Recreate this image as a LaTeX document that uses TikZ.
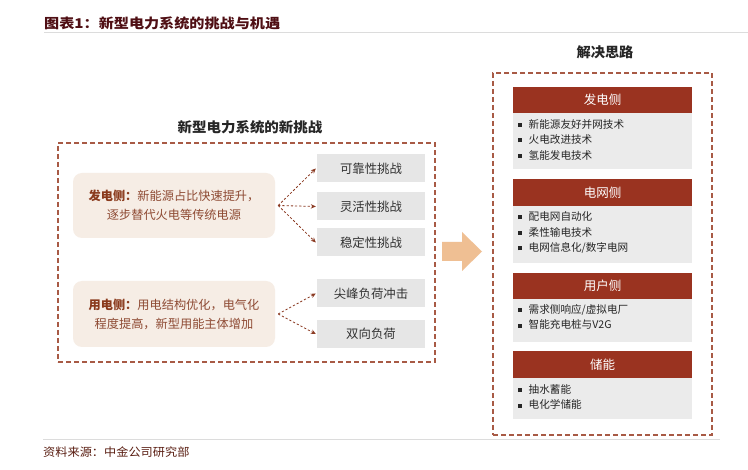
\documentclass[tikz,border=0pt]{standalone}
\usepackage{fontspec}
\setmainfont{Noto Sans CJK SC}
\usetikzlibrary{arrows.meta}
\definecolor{titlec}{HTML}{4F0F14}
\definecolor{linegray}{HTML}{DCDCDC}
\definecolor{dashc}{HTML}{A85A45}
\definecolor{beige}{HTML}{F6EDE5}
\definecolor{sideb}{HTML}{8A3A1C}
\definecolor{sidet}{HTML}{8E4A33}
\definecolor{grayb}{HTML}{E6E6E6}
\definecolor{bodyg}{HTML}{EBEBEB}
\definecolor{headr}{HTML}{9A3320}
\definecolor{bigarr}{HTML}{EFBF93}
\definecolor{arrc}{HTML}{8B3A22}
\definecolor{srcc}{HTML}{5A1E12}
\newcommand{\sqb}{\raisebox{1.2pt}{\rule{4pt}{4pt}}\hspace{6.5pt}}
\begin{document}
\begin{tikzpicture}[x=1pt,y=-1pt,
  dbox/.style={draw=dashc, line width=1.4pt, dash pattern=on 5pt off 3pt, inner sep=0pt},
  sidebox/.style={fill=beige, rounded corners=9pt, minimum width=202pt, minimum height=65pt, inner sep=0pt, align=center, text=sidet, font=\fontsize{12.2}{19}\selectfont},
  chal/.style={fill=grayb, minimum width=108pt, minimum height=28pt, inner sep=0pt, text=black!80, font=\fontsize{12.4}{14}\selectfont},
  darr/.style={draw=arrc, line width=0.8pt, dash pattern=on 2.2pt off 2pt, -{Stealth[length=5pt,width=4.5pt]}},
  head/.style={fill=headr, minimum width=179pt, inner sep=0pt, text=white, font=\fontsize{12.5}{14}\selectfont},
  body/.style={fill=bodyg, minimum width=179pt, inner sep=0pt},
  items/.style={anchor=west, inner sep=0pt, align=left, text=black!85, font=\fontsize{10.6}{15.5}\selectfont},
  sec/.style={font=\fontsize{13.8}{16}\selectfont\bfseries, text=black!85}
]
\useasboundingbox (0,0) rectangle (748,470);
\fill[white] (0,0) rectangle (748,470);

% header
\node[anchor=west, inner sep=0pt, text=titlec, font=\fontsize{13.5}{16}\selectfont\bfseries] (title) at (44,23) {\scalebox{1.12}[1]{图表1：新型电力系统的挑战与机遇}};
\coordinate (tl1) at (44,33);
\coordinate (tl2) at (748,33);
\draw[linegray, line width=1pt] (tl1) -- (tl2);

% left part
\node[sec] (ltitle) at (250,127) {\scalebox{1.05}[1]{新型电力系统的新挑战}};
\node[dbox, minimum width=377pt, minimum height=219pt] (lbox) at (246.5,252.5) {};

\node[sidebox] (gen) at (174,205.5) {{\bfseries\color{sideb}发电侧：}新能源占比快速提升，\\逐步替代火电等传统电源};
\node[sidebox, minimum height=66pt] (use) at (174,314) {{\bfseries\color{sideb}用电侧：}用电结构优化，电气化\\程度提高，新型用能主体增加};

\node[chal] (c1) at (371,168.5) {可靠性挑战};
\node[chal] (c2) at (371,206.5) {灵活性挑战};
\node[chal] (c3) at (371,242.5) {稳定性挑战};
\node[chal] (c4) at (371,293.5) {尖峰负荷冲击};
\node[chal] (c5) at (371,334) {双向负荷};

\coordinate (o1) at ([xshift=3pt]gen.east);
\coordinate (o2) at ([xshift=3pt]use.east);
\draw[darr] (o1) -- ([xshift=-1pt]c1.west);
\draw[darr] (o1) -- ([xshift=-1pt]c2.west);
\draw[darr] (o1) -- ([xshift=-1pt]c3.west);
\draw[darr] (o2) -- ([xshift=-1pt]c4.west);
\draw[darr] (o2) -- ([xshift=-1pt]c5.west);

% big arrow
\fill[bigarr] (442,242) -- (462,242) -- (462,232) -- (482,251.5) -- (462,271) -- (462,261) -- (442,261) -- cycle;

% right part
\node[sec] (rtitle) at (605,52) {\scalebox{1.03}[1]{解决思路}};
\node[dbox, minimum width=219pt, minimum height=362pt] (rbox) at (602.5,254) {};

\node[head, minimum height=26pt] (h1) at (602.5,100) {发电侧};
\node[body, minimum height=56pt] (b1) at (602.5,141) {};
\node[items] (i1) at (518,139.5) {\sqb 新能源友好并网技术\\\sqb 火电改进技术\\\sqb 氢能发电技术};

\node[head, minimum height=27pt] (h2) at (602.5,192.5) {电网侧};
\node[body, minimum height=57pt] (b2) at (602.5,234.5) {};
\node[items] (i2) at (518,232.5) {\sqb 配电网自动化\\\sqb 柔性输电技术\\\sqb 电网信息化/数字电网};

\node[head, minimum height=26pt] (h3) at (602.5,286) {用户侧};
\node[body, minimum height=43pt] (b3) at (602.5,320.5) {};
\node[items] (i3) at (518,317) {\sqb 需求侧响应/虚拟电厂\\\sqb 智能充电桩与V2G};

\node[head, minimum height=27pt] (h4) at (602.5,364.5) {储能};
\node[body, minimum height=41pt] (b4) at (602.5,398.5) {};
\node[items] (i4) at (518,397) {\sqb 抽水蓄能\\\sqb 电化学储能};

% footer
\coordinate (bl1) at (43,440);
\coordinate (bl2) at (720,440);
\draw[linegray, line width=1pt] (bl1) -- (bl2);
\node[anchor=west, inner sep=0pt, text=srcc, font=\fontsize{11.5}{14}\selectfont] (src) at (43,452) {\scalebox{1.06}[1]{资料来源：中金公司研究部}};
\end{tikzpicture}
\end{document}
